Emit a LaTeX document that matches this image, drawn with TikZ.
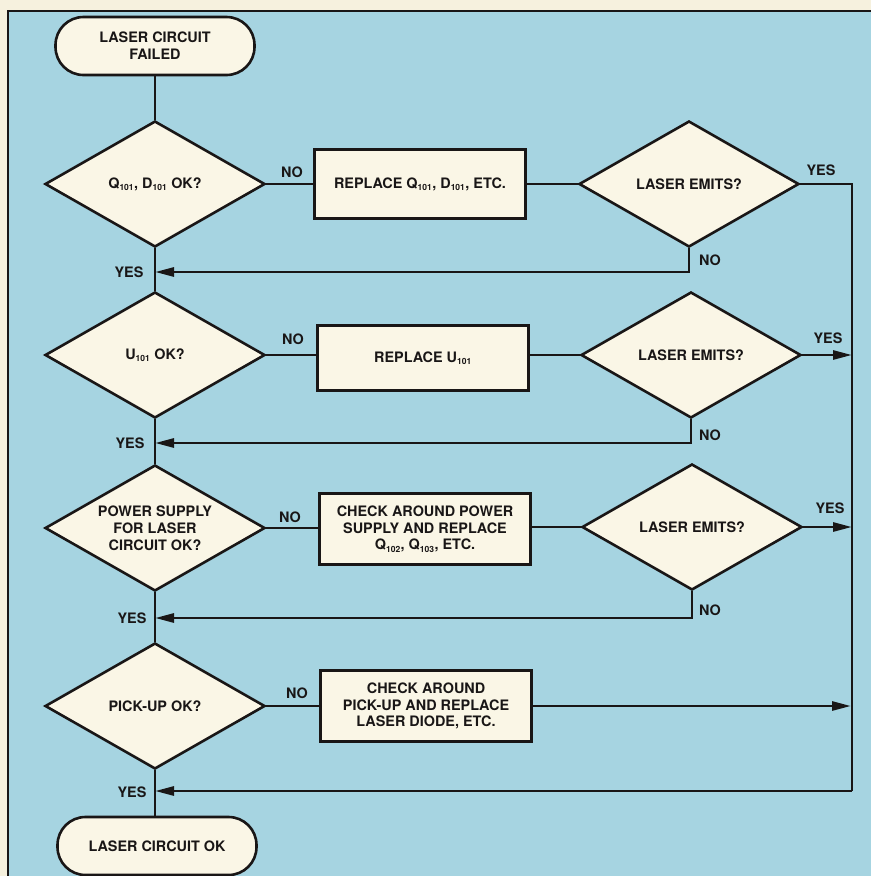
\documentclass[tikz,border=0pt]{standalone}
\usepackage{fontspec}
\setmainfont{TeX Gyre Heros}
\usetikzlibrary{shapes.geometric,arrows.meta}
\definecolor{panelblue}{RGB}{166,212,225}
\definecolor{cream}{RGB}{250,246,230}
\definecolor{paper}{RGB}{246,241,222}
\definecolor{ink}{RGB}{25,22,22}
\newcommand{\tfont}{\fontsize{14.4}{16.8}\selectfont\bfseries}
\newcommand{\sbs}[1]{\textsubscript{\fontsize{8.5}{9}\selectfont #1}}
\begin{document}
\begin{tikzpicture}[x=1pt,y=-1pt,
  term/.style={draw=ink, fill=cream, line width=2.6pt, rounded corners=28pt,
    minimum width=199pt, minimum height=58pt, inner sep=0pt, align=center, font=\tfont, text=ink},
  dec/.style={diamond, draw=ink, fill=cream, line width=2.6pt, minimum width=220pt,
    minimum height=126pt, shape aspect=1.75, inner sep=0pt, align=center, font=\tfont, text=ink},
  proc/.style={rectangle, draw=ink, fill=cream, line width=2.6pt, minimum width=211pt,
    minimum height=69pt, inner sep=0pt, align=center, font=\tfont, text=ink},
  lbl/.style={font=\tfont, text=ink, inner sep=0pt},
  flow/.style={draw=ink, line width=2.8pt},
  arr/.style={flow, -{Triangle[length=19pt,width=9pt]}}]
\useasboundingbox (0,0) rectangle (871,876);
\fill[paper] (0,0) rectangle (871,876);
\fill[panelblue] (8,11) rectangle (871,876);
\draw[ink, line width=2pt] (8,876) -- (8,11) -- (871,11);

% main column
\node[term] (start) at (155,46) {LASER CIRCUIT\\FAILED};
\node[dec] (d1) at (155,184) {Q\sbs{101}, D\sbs{101} OK?};
\node[dec] (d2) at (155,355) {U\sbs{101} OK?};
\node[dec] (d3) at (155,528) {POWER SUPPLY\\FOR LASER\\CIRCUIT OK?};
\node[dec] (d4) at (155,706) {PICK-UP OK?};
\node[term] (end) at (157,846) {LASER CIRCUIT OK};

% process boxes
\node[proc] (b1) at (420,184) {REPLACE Q\sbs{101}, D\sbs{101}, ETC.};
\node[proc, minimum height=65pt] (b2) at (423,358) {REPLACE U\sbs{101}};
\node[proc, minimum height=71pt] (b3) at (425,529) {CHECK AROUND POWER\\SUPPLY AND REPLACE\\Q\sbs{102}, Q\sbs{103}, ETC.};
\node[proc, minimum height=71pt] (b4) at (426,706) {CHECK AROUND\\PICK-UP AND REPLACE\\LASER DIODE, ETC.};

% right decisions
\node[dec] (r1) at (689,184) {LASER EMITS?};
\node[dec] (r2) at (691,355) {LASER EMITS?};
\node[dec] (r3) at (692,527) {LASER EMITS?};

% junctions
\coordinate (j1) at (155,272);
\coordinate (j2) at (155,443);
\coordinate (j3) at (155,618);
\coordinate (j4) at (155,791);
\coordinate (rt) at (852,184);
\coordinate (rb) at (852,791);
\coordinate (e2) at (852,355);
\coordinate (e3) at (852,527);
\coordinate (e4) at (851,706);

% vertical main flow
\draw[flow] (start) -- (d1);
\draw[flow] (d1) -- (d2);
\draw[flow] (d2) -- (d3);
\draw[flow] (d3) -- (d4);
\draw[flow] (d4.south) -- (d4.south |- end.north);

% NO branches
\draw[flow] (d1.east) -- (b1.west);
\draw[flow] (b1.east) -- (r1.west);
\draw[flow] (d2.east) -- (b2.west |- d2.east);
\draw[flow] (b2.east |- r2.west) -- (r2.west);
\draw[flow] (d3.east) -- (b3.west |- d3.east);
\draw[flow] (b3.east |- r3.west) -- (r3.west);
\draw[flow] (d4.east) -- (b4.west);

% returns
\draw[flow] (r1.east) -- (rt) -- (rb);
\draw[arr] (rb) -- (j4);
\draw[arr] (r1.south) |- (j1);
\draw[arr] (r2.east) -- (e2);
\draw[arr] (r2.south) |- (j2);
\draw[arr] (r3.east) -- (e3);
\draw[arr] (r3.south) |- (j3);
\draw[arr] (b4.east) -- (e4);

% labels
\node[lbl] (n1) at (292,172) {NO};
\node[lbl] (n2) at (293,339) {NO};
\node[lbl] (n3) at (290,517) {NO};
\node[lbl] (n4) at (297,693) {NO};
\node[lbl] (y1) at (821,170) {YES};
\node[lbl] (y2) at (828,338) {YES};
\node[lbl] (y3) at (830,508) {YES};
\node[lbl] (m1) at (710,260) {NO};
\node[lbl] (m2) at (710,435) {NO};
\node[lbl] (m3) at (710,610) {NO};
\node[lbl] (l1) at (129,272) {YES};
\node[lbl] (l2) at (130,443) {YES};
\node[lbl] (l3) at (132,618) {YES};
\node[lbl] (l4) at (132,792) {YES};
\end{tikzpicture}
\end{document}
